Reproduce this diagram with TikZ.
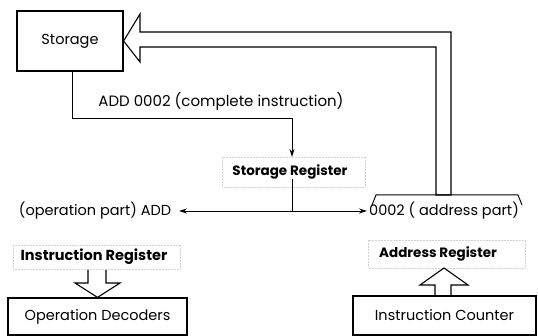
\documentclass[tikz,border=0pt]{standalone}
\usepackage{fontspec}
\setmainfont{Poppins}
\usetikzlibrary{arrows.meta}
\begin{document}
\begin{tikzpicture}[x=1pt,y=-1pt,
  txt/.style={inner sep=0pt,font=\fontsize{14.5}{16}\selectfont},
  unit/.style={draw,line width=1.2pt,inner sep=0pt,font=\fontsize{14.5}{16}\selectfont},
  reg/.style={inner sep=0pt,font=\fontsize{13.5}{15}\selectfont\bfseries},
  regframe/.style={draw=gray!35,densely dotted,line width=0.5pt},
  wire/.style={line width=0.9pt},
  tip/.style={-{Stealth[length=8pt,width=5pt]}},
  hollow/.style={line width=1.1pt,line join=miter}]
\useasboundingbox (0,0) rectangle (538,336);

% units
\node[unit,minimum width=106pt,minimum height=60pt] (storage) at (70,41) {Storage};
\node[unit,minimum width=179pt,minimum height=37pt] (decoders) at (97.5,316.5) {Operation Decoders};
\node[unit,minimum width=183pt,minimum height=39pt] (counter) at (444.5,315.5) {Instruction Counter};

% registers
\node[reg] (sreg) at (290,172) {Storage Register};
\node[reg,font=\fontsize{14.5}{16}\selectfont\bfseries] (ireg) at (94,257) {Instruction Register};
\node[reg] (areg) at (438,254) {Address Register};
\draw[regframe] (222,157) rectangle (365,187);
\draw[regframe] (13,245) rectangle (180,269);
\draw[regframe] (368,240) rectangle (525,268);

% parts of the instruction
\node[txt] (oppart) at (95,211) {(operation part) ADD};
\node[txt] (adpart) at (444,211) {0002 ( address part)};
\node[txt,font=\fontsize{15}{17}\selectfont] (complete) at (221,101) {ADD 0002 (complete instruction)};
\coordinate (optip) at (179,211);
\coordinate (adtip) at (367,211);

% storage to storage register
\coordinate (drop) at (292,157);
\draw[wire,tip] (storage.south -| 72,0) |- (292,118) -- (drop);

% storage register split to both registers
\coordinate (split) at (292,211);
\draw[wire] (sreg.south -| split) -- (split);
\draw[wire,tip] (split) -- (optip);
\draw[wire,tip] (split) -- (adtip);

% address part back to storage (hollow arrow)
\draw[hollow] (storage.east) -- (140,14) -- (140,32) -- (451,32) -- (451,195)
  -- (436,195) -- (436,47) -- (140,47) -- (140,62) -- cycle;

% bracket over the address part
\draw[line width=1pt] (372,205) -- (376,195) -- (518,195) -- (522,205);

% instruction register to operation decoders
\draw[hollow] (88,270) -- (88,283) -- (75,283) -- (decoders.north) -- (120,283)
  -- (106,283) -- (106,270);

% instruction counter to address register
\draw[hollow] (435,296) -- (435,285) -- (420,285) -- (444,268) -- (468,285)
  -- (451,285) -- (451,296);
\end{tikzpicture}
\end{document}
